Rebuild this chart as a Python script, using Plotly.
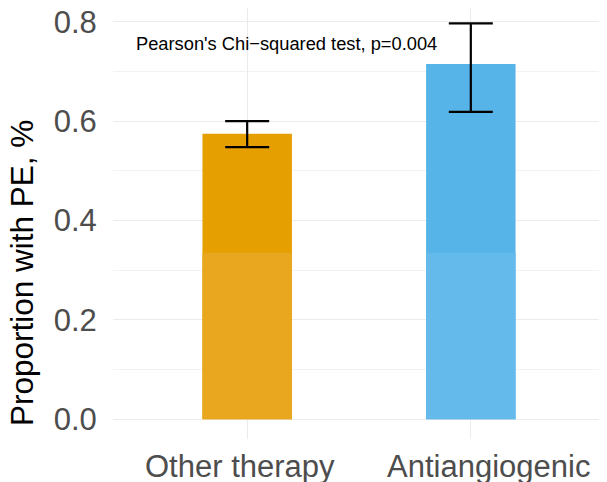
import plotly.graph_objects as go

categories = ["Other therapy", "Antiangiogenic"]
proportion = [0.575, 0.715]
ci_low = [0.548, 0.619]
ci_high = [0.600, 0.797]
lower_part = [0.335, 0.335]
colors_dark = ["#E69F00", "#56B4E9"]
colors_light = ["#E8A71E", "#64BAEA"]
label_offsets = [-0.031, 0.080]
annotation_text = "Pearson's Chi\u2212squared test, p=0.004"
y_title = "Proportion with PE, %"

FONT = "Liberation Sans, Arial, sans-serif"

fig = go.Figure()
fig.add_trace(go.Bar(
    x=categories, y=proportion, width=0.4,
    marker=dict(color=colors_dark, line=dict(width=0)),
    error_y=dict(type="data", symmetric=False,
                 array=[h - p for h, p in zip(ci_high, proportion)],
                 arrayminus=[p - l for l, p in zip(ci_low, proportion)],
                 color="black", thickness=2.2, width=22),
    showlegend=False, hoverinfo="skip",
))
fig.add_trace(go.Bar(
    x=categories, y=lower_part, width=0.4,
    marker=dict(color=colors_light, line=dict(width=0)),
    showlegend=False, hoverinfo="skip",
))

fig.add_annotation(x=0.174, y=0.757, xref="x", yref="y", text=annotation_text,
                   showarrow=False, font=dict(size=18.3, color="black", family=FONT))

for i, (cat, off) in enumerate(zip(categories, label_offsets)):
    fig.add_annotation(x=i + off, y=-0.063, xref="x", yref="paper", text=cat,
                       showarrow=False, xanchor="center", yanchor="middle",
                       font=dict(size=31, color="#4D4D4D", family=FONT))

fig.add_annotation(x=-0.185, y=0.385, xref="paper", yref="paper", text=y_title,
                   textangle=-90, showarrow=False, xanchor="center", yanchor="middle",
                   font=dict(size=31.5, color="black", family=FONT))

fig.update_layout(
    width=599, height=474,
    margin=dict(l=105, r=2, t=0, b=43),
    barmode="overlay",
    plot_bgcolor="white", paper_bgcolor="white",
    font=dict(family=FONT),
    xaxis=dict(
        range=[-0.6, 1.6], showgrid=True, gridcolor="#EBEBEB", gridwidth=1.2,
        showticklabels=False, automargin=False, zeroline=False, showline=False,
    ),
    yaxis=dict(
        range=[-0.04, 0.828], tickvals=[0, 0.2, 0.4, 0.6, 0.8],
        ticktext=["0.0", "0.2", "0.4", "0.6", "0.8"], automargin=False,
        ticklabeloverflow="allow",
        showgrid=True, gridcolor="#EBEBEB", gridwidth=1.2,
        minor=dict(tickvals=[0.1, 0.3, 0.5, 0.7], showgrid=True, gridcolor="#F2F2F2", gridwidth=0.8),
        ticks="outside", ticklen=9, tickcolor="rgba(0,0,0,0)",
        tickfont=dict(size=31, color="#4D4D4D"), zeroline=False, showline=False,
    ),
)

fig.write_html("out.html")
